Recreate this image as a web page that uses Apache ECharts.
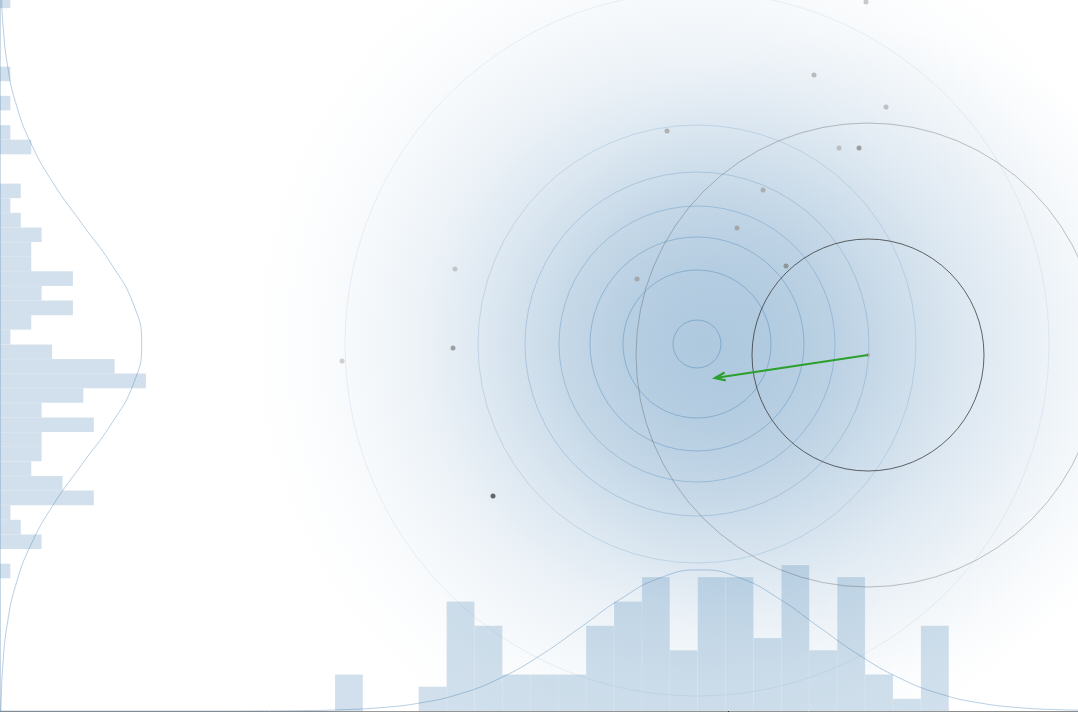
<!DOCTYPE html>
<html>
<head>
<meta charset="utf-8">
<script src="https://cdn.jsdelivr.net/npm/echarts@6.0.0/dist/echarts.min.js"></script>
<style>
  html, body { margin: 0; padding: 0; background: #fff; }
  #main { width: 1078px; height: 712px; }
</style>
</head>
<body>
<div id="main"></div>
<script>
// sample points (x, y) and a shade value, 0 = light .. 1 = dark
var pointX = [1.38, 0.86, 1.58, -0.61, 1.11, 1.31, 0.35, 0.09, 0.58, -2.73, -0.91, -2.75, -3.86, -2.35];
var pointY = [3.42, 2.69, 2.37, 2.13, 1.96, 1.96, 1.54, 1.16, 0.78, 0.75, 0.65, -0.04, -0.17, -1.52];
var pointShade = [0.15, 0.25, 0.2, 0.3, 0.2, 0.45, 0.3, 0.35, 0.5, 0.15, 0.35, 0.45, 0.1, 0.9];

// centre of the cloud, rings round it and the soft glow
var cloudCentre = [-0.31, 0];
var ringRadii = [0.24, 0.74, 1.07, 1.38, 1.72, 2.19, 3.52];
var glowRadius = 4.5;

// displaced point, its two circles, arrow back toward the centre
var shiftFrom = [1.40, -0.11];
var shiftTo = [-0.13, -0.34];
var shiftRadii = [1.16, 2.32];
var shiftGlowRadius = 3.3;

// bottom histogram (x marginal)
var xBinStart = -3.93;
var xBinWidth = 0.279;
var xCounts = [3, 0, 0, 2, 9, 7, 3, 3, 3, 7, 9, 11, 5, 11, 11, 6, 12, 5, 11, 3, 1, 7];

// left histogram (y marginal), bins from bottom to top
var yBinStart = -2.343;
var yBinHeight = 0.1462;
var yCounts = [1, 0, 4, 2, 1, 9, 6, 3, 4, 4, 9, 4, 8, 14, 11, 5, 1, 3, 7, 4,
               7, 3, 3, 4, 2, 1, 2, 0, 0, 3, 1, 0, 1, 0, 1, 0, 0, 0, 0, 1];

// fitted curves
var xCurveX = [-7.28, -5.48, -5.08, -4.68, -4.28, -3.88, -3.48, -3.08, -2.68, -2.28, -1.88, -1.48, -1.08, -0.68,
               -0.28, 0.12, 0.52, 0.92, 1.32, 1.72, 2.12, 2.52, 2.92, 3.32, 3.5];
var xCurveCount = [0, 0, 0, 0.01, 0.03, 0.10, 0.27, 0.66, 1.41, 2.69, 4.55, 6.84, 9.17, 10.93,
                   11.59, 10.93, 9.17, 6.84, 4.55, 2.69, 1.41, 0.66, 0.27, 0.10, 0.07];
var yCurveY = [-3.67, -3.6, -3.2, -2.8, -2.4, -2.0, -1.6, -1.2, -0.8, -0.4, 0,
               0.4, 0.8, 1.2, 1.6, 2.0, 2.4, 2.8, 3.2, 3.44];
var yCurveCount = [0.08, 0.10, 0.28, 0.70, 1.54, 3.00, 5.16, 7.88, 10.67, 12.79, 13.59,
                   12.79, 10.67, 7.88, 5.16, 3.00, 1.54, 0.70, 0.28, 0.16];

var xTicks = [0];

// ---- build series data ----
var points = pointX.map(function (x, i) { return [x, pointY[i], pointShade[i]]; });
var rings = ringRadii.map(function (r, i) { return [cloudCentre[0], cloudCentre[1], r, i]; });
var shiftCircles = shiftRadii.map(function (r, i) { return [shiftFrom[0], shiftFrom[1], r, i]; });
var glows = [
  [cloudCentre[0], cloudCentre[1], glowRadius, 0],
  [shiftFrom[0], shiftFrom[1], shiftGlowRadius, 1]
];
var xBins = xCounts.map(function (c, i) {
  return [xBinStart + i * xBinWidth, xBinStart + (i + 1) * xBinWidth, c];
});
var yBins = yCounts.map(function (c, i) {
  return [yBinStart + i * yBinHeight, yBinStart + (i + 1) * yBinHeight, c];
});
var xCurve = xCurveX.map(function (x, i) { return [x, xCurveCount[i]]; });
var yCurve = yCurveY.map(function (y, i) { return [yCurveCount[i], y]; });

var ringAlpha = [0.44, 0.42, 0.38, 0.32, 0.27, 0.2, 0.1];
var barFill = 'rgba(70,130,180,0.25)';
var curveColor = 'rgba(70,130,180,0.38)';

var glowStops = [
  [[0, 0.40], [0.15, 0.37], [0.3, 0.30], [0.45, 0.20], [0.6, 0.11], [0.75, 0.05], [0.88, 0.015], [1, 0]],
  [[0, 0.10], [0.4, 0.08], [0.7, 0.04], [1, 0]]
];

function renderGlow(params, api) {
  var c = api.coord([api.value(0), api.value(1)]);
  var r = api.size([api.value(2), 0])[0];
  var stops = glowStops[params.dataIndex].map(function (s) {
    return { offset: s[0], color: 'rgba(70,130,180,' + s[1] + ')' };
  });
  return {
    type: 'circle',
    shape: { cx: c[0], cy: c[1], r: r },
    style: { fill: new echarts.graphic.RadialGradient(0.5, 0.5, 0.5, stops) }
  };
}

function renderRing(params, api) {
  var c = api.coord([api.value(0), api.value(1)]);
  var r = api.size([api.value(2), 0])[0];
  return {
    type: 'circle',
    shape: { cx: c[0], cy: c[1], r: r },
    style: { fill: null, stroke: 'rgba(70,130,180,' + ringAlpha[params.dataIndex] + ')', lineWidth: 1 }
  };
}

function renderShiftCircle(params, api) {
  var c = api.coord([api.value(0), api.value(1)]);
  var r = api.size([api.value(2), 0])[0];
  var stroke = params.dataIndex === 0 ? 'rgba(40,40,40,0.7)' : 'rgba(60,60,60,0.3)';
  return {
    type: 'circle',
    shape: { cx: c[0], cy: c[1], r: r },
    style: { fill: null, stroke: stroke, lineWidth: 1 }
  };
}

// bars growing up from the bottom
function renderXBin(params, api) {
  var p0 = api.coord([api.value(0), api.value(2)]);
  var p1 = api.coord([api.value(1), 0]);
  return {
    type: 'rect',
    shape: { x: p0[0], y: p0[1], width: p1[0] - p0[0], height: p1[1] - p0[1] },
    style: { fill: barFill, stroke: 'rgba(255,255,255,0.25)', lineWidth: 0.5 }
  };
}

// bars growing right from the left edge
function renderYBin(params, api) {
  var p0 = api.coord([0, api.value(1)]);
  var p1 = api.coord([api.value(2), api.value(0)]);
  return {
    type: 'rect',
    shape: { x: p0[0], y: p0[1], width: p1[0] - p0[0], height: p1[1] - p0[1] },
    style: { fill: barFill, stroke: 'rgba(255,255,255,0.25)', lineWidth: 0.5 }
  };
}

function renderArrow(params, api) {
  var a = api.coord([api.value(0), api.value(1)]);
  var b = api.coord([api.value(2), api.value(3)]);
  var ang = Math.atan2(a[1] - b[1], a[0] - b[0]);
  var len = 11, spread = 0.37;
  var h1 = [b[0] + len * Math.cos(ang + spread), b[1] + len * Math.sin(ang + spread)];
  var h2 = [b[0] + len * Math.cos(ang - spread), b[1] + len * Math.sin(ang - spread)];
  return {
    type: 'group',
    children: [
      { type: 'circle', shape: { cx: a[0], cy: a[1], r: 2 }, style: { fill: '#a8a8a8' } },
      { type: 'line', shape: { x1: a[0], y1: a[1], x2: b[0], y2: b[1] },
        style: { stroke: '#2ca02c', lineWidth: 2.2 } },
      { type: 'polyline', shape: { points: [h1, b, h2] },
        style: { stroke: '#2ca02c', lineWidth: 2.2, fill: null } }
    ]
  };
}

var chart = echarts.init(document.getElementById('main'));

chart.setOption({
  animation: false,
  backgroundColor: '#fff',
  grid: { left: 0, right: 0, top: 0, bottom: 1, containLabel: false },
  xAxis: [{
    type: 'value', min: -7.28, max: 3.5,
    axisLine: { show: true, onZero: false, lineStyle: { color: '#8c8c8c', width: 1 } },
    axisTick: { show: true, customValues: xTicks, length: 5, lineStyle: { color: '#222' } },
    axisLabel: { show: false },
    splitLine: { show: false }
  }, {
    // count axis of the left histogram
    type: 'value', min: 0, max: 103.4, show: false
  }],
  yAxis: [{
    type: 'value', min: -3.67, max: 3.44,
    axisLine: { show: true, onZero: false, lineStyle: { color: '#c6d6e4', width: 1 } },
    axisTick: { show: false },
    axisLabel: { show: false },
    splitLine: { show: false }
  }, {
    // count axis of the bottom histogram
    type: 'value', min: 0, max: 58.4, show: false
  }],
  visualMap: {
    show: false, type: 'continuous', seriesIndex: 7, dimension: 2,
    min: 0, max: 1, inRange: { color: ['#d4d4d4', '#333333'] }
  },
  series: [{
    type: 'custom', renderItem: renderGlow, z: 0, silent: true,
    encode: { x: 0, y: 1 },
    data: glows
  }, {
    type: 'custom', renderItem: renderRing, z: 1, silent: true,
    encode: { x: 0, y: 1 },
    data: rings
  }, {
    type: 'custom', renderItem: renderXBin, z: 2, silent: true,
    xAxisIndex: 0, yAxisIndex: 1,
    encode: { x: [0, 1], y: 2 },
    data: xBins
  }, {
    type: 'custom', renderItem: renderYBin, z: 2, silent: true,
    xAxisIndex: 1, yAxisIndex: 0,
    encode: { x: 2, y: [0, 1] },
    data: yBins
  }, {
    type: 'line', z: 3, xAxisIndex: 0, yAxisIndex: 1,
    smooth: 0.5, showSymbol: false, silent: true,
    lineStyle: { color: curveColor, width: 1 },
    data: xCurve
  }, {
    type: 'line', z: 3, xAxisIndex: 1, yAxisIndex: 0,
    smooth: 0.5, showSymbol: false, silent: true,
    lineStyle: { color: curveColor, width: 1 },
    data: yCurve
  }, {
    type: 'custom', renderItem: renderShiftCircle, z: 4, silent: true,
    encode: { x: 0, y: 1 },
    data: shiftCircles
  }, {
    type: 'scatter', z: 5, symbolSize: 5, silent: true,
    data: points
  }, {
    type: 'custom', renderItem: renderArrow, z: 6, silent: true,
    encode: { x: [0, 2], y: [1, 3] },
    data: [[shiftFrom[0], shiftFrom[1], shiftTo[0], shiftTo[1]]]
  }]
});
</script>
</body>
</html>
